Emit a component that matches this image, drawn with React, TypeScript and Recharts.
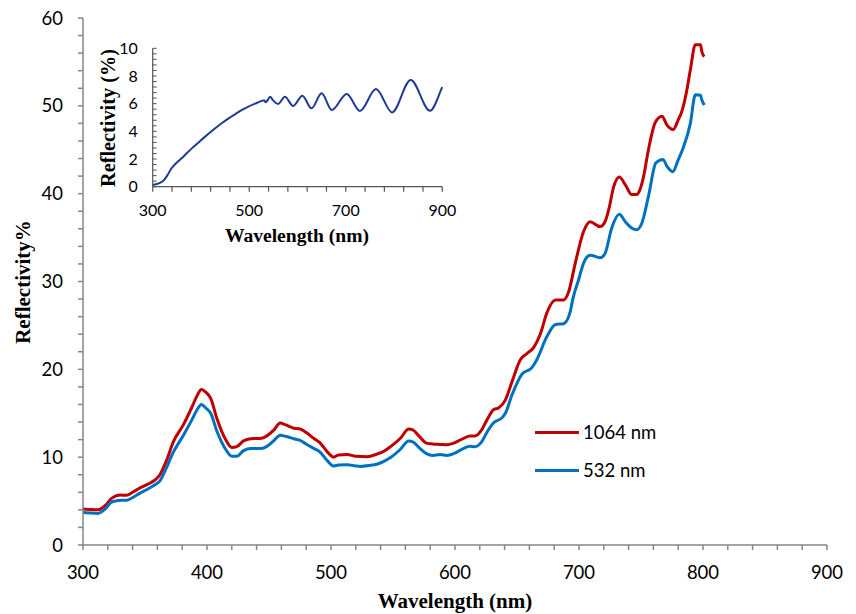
import React from "react";
import { LineChart, Line, XAxis, YAxis, Legend, Label, CartesianGrid } from "recharts";

// main figure: reflectivity after irradiation at two wavelengths
const wl1064 = [
  300, 305, 312, 318, 323, 330, 335, 340, 346, 352, 358, 362, 367, 373, 381, 388, 392, 395.5, 399, 403,
  408, 415, 420, 424, 429.5, 435, 444, 448, 454, 459, 463, 470, 475, 480, 486, 491, 497, 502, 506, 513,
  520, 529, 537, 543, 548, 556, 562.6, 566, 571, 577, 582, 588, 593.5, 599, 607, 612, 616, 621.5, 626, 631,
  635, 640.6, 646, 652.7, 658, 663, 669, 674, 681, 687.6, 691.6, 697, 703.7, 709, 717, 721, 724, 728, 732.5, 737.4,
  742.5, 746.5, 749, 752, 756, 761.5, 767, 771, 776, 780, 783, 787, 789.8, 793.8, 798, 799, 801,
];
const r1064 = [
  4.1, 4.05, 4.0, 4.5, 5.3, 5.7, 5.65, 6.0, 6.5, 6.9, 7.4, 8.0, 9.5, 11.8, 13.7, 15.75, 17.0, 17.7, 17.4, 16.7,
  14.4, 12.0, 11.1, 11.2, 11.85, 12.1, 12.15, 12.4, 13.1, 13.9, 13.7, 13.3, 13.2, 12.8, 12.15, 11.65, 10.6, 10.0, 10.25, 10.3,
  10.1, 10.05, 10.35, 10.7, 11.2, 12.15, 13.2, 13.1, 12.4, 11.6, 11.5, 11.45, 11.4, 11.6, 12.15, 12.4, 12.4, 13.1, 14.3, 15.4,
  15.6, 16.5, 18.6, 21.1, 21.8, 22.4, 24.1, 26.4, 27.9, 27.9, 28.8, 32.1, 35.7, 36.8, 36.25, 36.8, 38.2, 40.8, 41.9, 41.0,
  39.9, 39.9, 40.4, 41.9, 45.0, 48.1, 48.8, 47.8, 47.3, 48.4, 49.4, 51.8, 54.1, 56.95, 56.95, 56.2, 55.6,
];

const wl532 = [
  300, 305, 312, 318, 323, 331, 335, 340, 346, 352, 358, 362, 367, 373, 381, 388, 392, 395.5, 399, 403,
  408, 415, 420, 424, 429.5, 435, 444, 448, 454, 459, 464, 470, 475, 480, 486, 491, 497, 502, 506, 513,
  520, 523.6, 531, 537, 543, 548, 556, 562.6, 566, 571, 577, 582, 588, 593.5, 599, 607, 612, 616, 621.5, 626,
  631, 638, 640.6, 646, 654, 662, 666, 674, 681, 687.6, 693, 695, 699.7, 703.7, 709, 717, 721, 726.4, 732.5, 737.4,
  742.5, 746.5, 750.6, 756, 762, 767.7, 771, 775.6, 780, 784, 789.8, 793.8, 798, 799, 801,
];
const r532 = [
  3.7, 3.65, 3.6, 4.1, 4.9, 5.1, 5.1, 5.4, 5.9, 6.35, 6.85, 7.3, 8.7, 10.6, 12.5, 14.3, 15.4, 16.0, 15.6, 15.0,
  12.95, 10.9, 10.1, 10.1, 10.75, 11.0, 11.0, 11.2, 11.9, 12.5, 12.35, 12.1, 11.9, 11.5, 11.0, 10.6, 9.6, 9.0, 9.1, 9.15,
  9.0, 8.95, 9.05, 9.2, 9.55, 9.95, 10.9, 11.85, 11.75, 11.1, 10.4, 10.2, 10.3, 10.2, 10.4, 11.0, 11.25, 11.2, 11.75, 12.9,
  13.9, 14.5, 15.0, 17.1, 19.45, 20.2, 21.1, 23.7, 25.1, 25.2, 26.6, 28.0, 30.2, 32.1, 33.0, 32.7, 33.2, 36.1, 37.65, 36.8,
  36.1, 35.9, 36.6, 39.7, 43.5, 43.9, 43.1, 42.5, 43.85, 45.2, 48.0, 51.25, 51.2, 50.7, 50.1,
];

// inset: reference reflectivity spectrum
const wlInset = [
  300, 322, 330, 339, 350, 360, 370, 381, 395, 408, 425, 443, 458, 470.5, 485, 498, 512, 526, 531, 534,
  539, 543.5, 548, 560, 574, 591, 610, 629, 650, 671, 702, 729.5, 762.6, 796, 834.5, 874.5, 898.7, 900,
];
const rInset = [
  0.12, 0.43, 0.8, 1.33, 1.75, 2.05, 2.4, 2.77, 3.2, 3.6, 4.1, 4.58, 4.95, 5.23, 5.55, 5.78, 6.0, 6.2, 6.25, 6.1,
  6.3, 6.5, 6.3, 5.98, 6.5, 5.83, 6.58, 5.66, 6.75, 5.54, 6.7, 5.47, 7.06, 5.37, 7.71, 5.49, 7.1, 7.2,
];

const mainXTicks = [
  300, 320, 340, 360, 380, 400, 420, 440, 460, 480, 500, 520, 540, 560, 580, 600, 620, 640, 660, 680,
  700, 720, 740, 760, 780, 800, 820, 840, 860, 880, 900,
];
const mainYTicks = [
  0, 2, 4, 6, 8, 10, 12, 14, 16, 18, 20, 22, 24, 26, 28, 30, 32, 34, 36, 38, 40, 42, 44, 46, 48, 50, 52, 54, 56, 58, 60,
];
const insetXTicks = [300, 340, 380, 420, 460, 500, 540, 580, 620, 660, 700, 740, 780, 820, 860, 900];
const insetYTicks = [
  0, 0.4, 0.8, 1.2, 1.6, 2, 2.4, 2.8, 3.2, 3.6, 4, 4.4, 4.8, 5.2, 5.6, 6, 6.4, 6.8, 7.2, 7.6, 8, 8.4, 8.8, 9.2, 9.6, 10,
];

const seriesNames = ["1064 nm", "532 nm"];
const seriesColors = ["#C00000", "#0070C0"];

const toPoints = (xs: number[], ys: number[]) => xs.map((w, i) => ({ w, r: ys[i] }));
const data1064 = toPoints(wl1064, r1064);
const data532 = toPoints(wl532, r532);
const dataInset = toPoints(wlInset, rInset);

const SANS = "Lato, 'Open Sans', sans-serif";
const SERIF = "'Liberation Serif', 'DejaVu Serif', serif";
const AXIS_GRAY = "#868686";

function InsetYTick(props: any) {
  const { x, y, payload } = props;
  const axisX = x + 15;
  const v = payload.value;
  const show = Math.abs(v - Math.round(v)) < 1e-6 && Math.round(v) % 2 === 0;
  return (
    <g>
      <line x1={axisX} x2={axisX + 4} y1={y} y2={y} stroke="#555" strokeWidth={1} />
      {show && (
        <text x={x} y={y} dy="0.36em" textAnchor="end" fontFamily={SANS} fontSize={16} fill="#000">
          {Math.round(v)}
        </text>
      )}
    </g>
  );
}

function ChartLegend() {
  return (
    <div style={{ fontFamily: SANS, fontSize: 18.5, color: "#000" }}>
      {seriesNames.map((name, i) => (
        <div key={name} style={{ display: "flex", alignItems: "center", height: 38.4, lineHeight: 1 }}>
          <span style={{ display: "inline-block", width: 44, height: 3, background: seriesColors[i] }} />
          <span style={{ marginLeft: 4 }}>{name}</span>
        </div>
      ))}
    </div>
  );
}

export default function App() {
  return (
    <div style={{ position: "absolute", left: 0, top: 0, width: 856, height: 614, background: "#fff" }}>
      <LineChart width={856} height={614} margin={{ top: 18, right: 29, bottom: 0, left: 0 }}>
        <XAxis
          type="number"
          dataKey="w"
          domain={[300, 900]}
          ticks={mainXTicks}
          interval={0}
          height={69}
          tickSize={5}
          tickMargin={16}
          tickFormatter={(v: number) => (v % 100 === 0 ? String(v) : "")}
          tick={{ fill: "#000", fontSize: 18.5, fontFamily: SANS }}
          stroke={AXIS_GRAY}
          strokeWidth={1.5}
        >
          <Label
            content={() => (
              <text x={455} y={608} textAnchor="middle" fontFamily={SERIF} fontWeight="bold" fontSize={21} fill="#000">
                Wavelength (nm)
              </text>
            )}
          />
        </XAxis>
        <XAxis xAxisId="top" orientation="top" type="number" domain={[300, 900]} height={0} tick={false} tickLine={false} stroke="#111" strokeWidth={1.3} />
        <YAxis
          type="number"
          domain={[0, 60]}
          ticks={mainYTicks}
          interval={0}
          width={83}
          tickSize={5}
          tickMargin={15}
          tickFormatter={(v: number) => (v % 10 === 0 ? String(v) : "")}
          tick={{ fill: "#000", fontSize: 18.5, fontFamily: SANS }}
          stroke={AXIS_GRAY}
          strokeWidth={1.5}
        >
          <Label
            content={() => (
              <text
                x={30}
                y={282}
                transform="rotate(-90 30 282)"
                textAnchor="middle"
                fontFamily={SERIF}
                fontWeight="bold"
                fontSize={21}
                fill="#000"
              >
                Reflectivity%
              </text>
            )}
          />
        </YAxis>
        <YAxis yAxisId="right" orientation="right" type="number" domain={[0, 60]} width={0} tick={false} tickLine={false} stroke="#222" strokeWidth={1.3} />
        <Legend
          layout="vertical"
          align="center"
          verticalAlign="middle"
          content={() => <ChartLegend />}
          wrapperStyle={{ position: "absolute", left: 535, top: 413, width: 140 }}
        />
        <Line
          data={data1064}
          dataKey="r"
          name={seriesNames[0]}
          type="monotone"
          stroke={seriesColors[0]}
          strokeWidth={3}
          dot={false}
          isAnimationActive={false}
        />
        <Line
          data={data532}
          dataKey="r"
          name={seriesNames[1]}
          type="monotone"
          stroke={seriesColors[1]}
          strokeWidth={3}
          dot={false}
          isAnimationActive={false}
        />
      </LineChart>

      {/* inset */}
      <div style={{ position: "absolute", left: 0, top: 0 }}>
        <LineChart width={460} height={260} margin={{ top: 48.3, right: 17.7, bottom: 0, left: 92.7 }}>
          <CartesianGrid horizontal={false} vertical={false} fill="#fff" />
          <XAxis
            type="number"
            dataKey="w"
            domain={[300, 900]}
            ticks={insetXTicks}
            interval={0}
            height={73.3}
            tickSize={5}
            tickMargin={13}
            tickFormatter={(v: number) => ((v - 300) % 200 === 0 ? String(v) : "")}
            tick={{ fill: "#000", fontSize: 16, fontFamily: SANS }}
            stroke="#555"
            strokeWidth={1.2}
          >
            <Label
              content={() => (
                <text x={297} y={241.5} textAnchor="middle" fontFamily={SERIF} fontWeight="bold" fontSize={19.6} fill="#000">
                  Wavelength (nm)
                </text>
              )}
            />
          </XAxis>
          <XAxis xAxisId="top" orientation="top" type="number" domain={[300, 900]} height={0} tick={false} tickLine={false} stroke="#555" strokeWidth={1.2} />
          <YAxis
            type="number"
            domain={[0, 10]}
            ticks={insetYTicks}
            interval={0}
            width={60}
            tickSize={0}
            tickMargin={15}
            tickLine={false}
            tick={<InsetYTick />}
            stroke="#555"
            strokeWidth={1.2}
          >
            <Label
              content={() => (
                <text
                  x={115}
                  y={118}
                  transform="rotate(-90 115 118)"
                  textAnchor="middle"
                  fontFamily={SERIF}
                  fontWeight="bold"
                  fontSize={20.3}
                  fill="#000"
                >
                  Reflectivity (%)
                </text>
              )}
            />
          </YAxis>
          <YAxis yAxisId="right" orientation="right" type="number" domain={[0, 10]} width={0} tick={false} tickLine={false} stroke="#555" strokeWidth={1.2} />
          <Line
            data={dataInset}
            dataKey="r"
            type="monotone"
            stroke="#1F3A93"
            strokeWidth={2}
            dot={false}
            isAnimationActive={false}
          />
        </LineChart>
      </div>
    </div>
  );
}
